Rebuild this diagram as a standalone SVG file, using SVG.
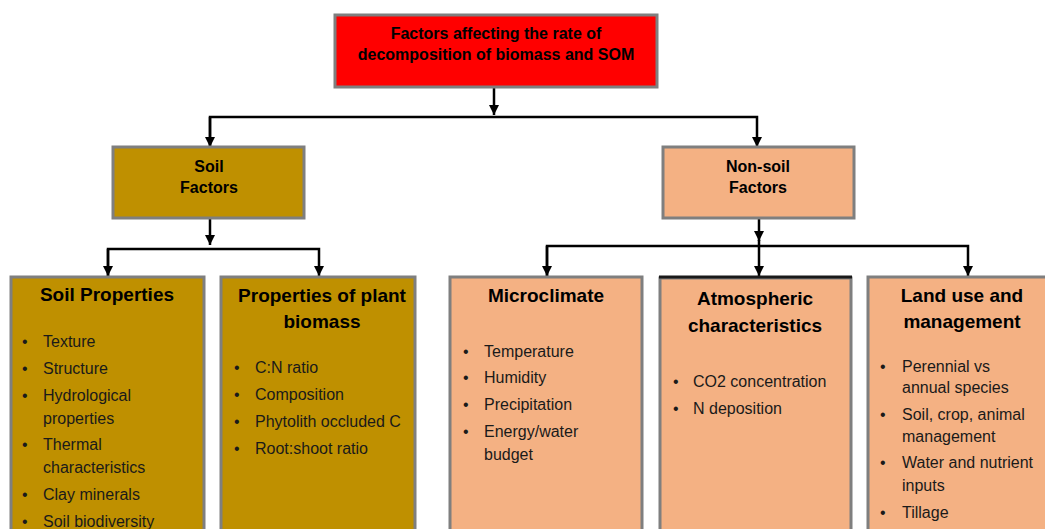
<svg xmlns="http://www.w3.org/2000/svg" width="1045" height="529" viewBox="0 0 1045 529">
<style>
.box{stroke:#7f7f7f;stroke-width:3}
.red{fill:#ff0000}
.gold{fill:#bf9000}
.peach{fill:#f4b183}
.t{font-family:"Liberation Sans",Arial,sans-serif;fill:#000}
.h{font-weight:bold;font-size:16px;text-anchor:middle}
.hh{font-weight:bold;font-size:19px;text-anchor:middle}
.b{font-size:16px;fill:#1a1a1a}
.con{stroke:#000;stroke-width:2.5;fill:none}
</style>
<defs>
<marker id="ah" viewBox="0 0 10 10" refX="10" refY="5" markerWidth="4" markerHeight="4" orient="auto" markerUnits="strokeWidth">
<path d="M0,0 L10,5 L0,10 Z" fill="#000"/>
</marker>
</defs>
<rect width="1045" height="529" fill="#fff"/>
<g id="connectors">
<path class="con" d="M494,88 V115" marker-end="url(#ah)"/>
<path class="con" d="M210,147 V117 H757 V147" marker-end="url(#ah)"/>
<path class="con" d="M210,117 V147" marker-end="url(#ah)"/>
<path class="con" d="M210,219 V245" marker-end="url(#ah)"/>
<path class="con" d="M108,276 V249 H319 V276" marker-end="url(#ah)"/>
<path class="con" d="M108,249 V276" marker-end="url(#ah)"/>
<path class="con" d="M759,219 V241" marker-end="url(#ah)"/>
<path class="con" d="M547,276 V246 H968 V276" marker-end="url(#ah)"/>
<path class="con" d="M547,246 V276" marker-end="url(#ah)"/>
<path class="con" d="M759,240 V276" marker-end="url(#ah)"/>
</g>
<g id="root">
<rect class="box red" x="335" y="15" width="322" height="72"/>
<text class="t h" x="496" y="39">Factors affecting the rate of</text>
<text class="t h" x="496" y="60">decomposition of biomass and SOM</text>
</g>
<g id="soil-factors">
<rect class="box gold" x="113" y="147" width="191" height="71"/>
<text class="t h" x="209" y="172">Soil</text>
<text class="t h" x="209" y="193">Factors</text>
</g>
<g id="non-soil-factors">
<rect class="box peach" x="663" y="147" width="191" height="71"/>
<text class="t h" x="758" y="172">Non-soil</text>
<text class="t h" x="758" y="193">Factors</text>
</g>
<g id="soil-properties">
<rect class="box gold" x="11" y="277" width="193" height="270"/>
<text class="t hh" x="107" y="301">Soil Properties</text>
<g class="t b">
<text x="22" y="347">•</text><text x="43" y="347">Texture</text>
<text x="22" y="374">•</text><text x="43" y="374">Structure</text>
<text x="22" y="401">•</text><text x="43" y="401">Hydrological</text>
<text x="43" y="424">properties</text>
<text x="22" y="450">•</text><text x="43" y="450">Thermal</text>
<text x="43" y="473">characteristics</text>
<text x="22" y="500">•</text><text x="43" y="500">Clay minerals</text>
<text x="22" y="527">•</text><text x="43" y="527">Soil biodiversity</text>
</g>
</g>
<g id="plant-biomass">
<rect class="box gold" x="221" y="277" width="194" height="270"/>
<text class="t hh" x="322" y="302">Properties of plant</text>
<text class="t hh" x="322" y="328">biomass</text>
<g class="t b">
<text x="234" y="373">•</text><text x="255" y="373">C:N ratio</text>
<text x="234" y="400">•</text><text x="255" y="400">Composition</text>
<text x="234" y="427">•</text><text x="255" y="427">Phytolith occluded C</text>
<text x="234" y="454">•</text><text x="255" y="454">Root:shoot ratio</text>
</g>
</g>
<g id="microclimate">
<rect class="box peach" x="450" y="277" width="192" height="270"/>
<text class="t hh" x="546" y="302">Microclimate</text>
<g class="t b">
<text x="463" y="357">•</text><text x="484" y="357">Temperature</text>
<text x="463" y="383">•</text><text x="484" y="383">Humidity</text>
<text x="463" y="410">•</text><text x="484" y="410">Precipitation</text>
<text x="463" y="437">•</text><text x="484" y="437">Energy/water</text>
<text x="484" y="460">budget</text>
</g>
</g>
<g id="atmospheric">
<rect class="box peach" x="660" y="278" width="191" height="270"/>
<line x1="659" y1="277" x2="852" y2="277" stroke="#1a1a1a" stroke-width="3"/>
<text class="t hh" x="755" y="305">Atmospheric</text>
<text class="t hh" x="755" y="332">characteristics</text>
<g class="t b">
<text x="673" y="387">•</text><text x="693" y="387">CO2 concentration</text>
<text x="673" y="414">•</text><text x="693" y="414">N deposition</text>
</g>
</g>
<g id="land-use">
<rect class="box peach" x="868" y="277" width="190" height="270"/>
<text class="t hh" x="962" y="302">Land use and</text>
<text class="t hh" x="962" y="328">management</text>
<g class="t b">
<text x="880" y="372">•</text><text x="902" y="372">Perennial vs</text>
<text x="902" y="393">annual species</text>
<text x="880" y="420">•</text><text x="902" y="420">Soil, crop, animal</text>
<text x="902" y="442">management</text>
<text x="880" y="468">•</text><text x="902" y="468">Water and nutrient</text>
<text x="902" y="491">inputs</text>
<text x="880" y="518">•</text><text x="902" y="518">Tillage</text>
</g>
</g>
</svg>
